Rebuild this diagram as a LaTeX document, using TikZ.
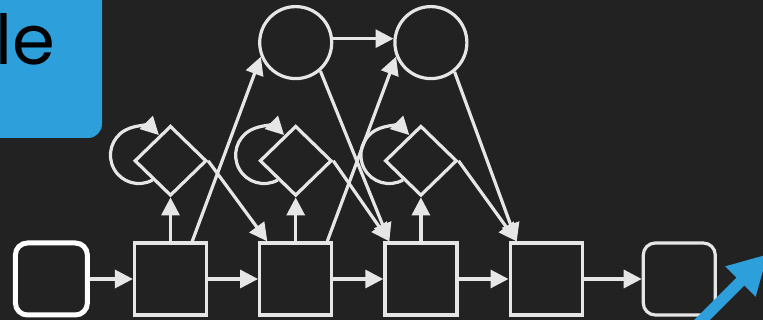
\documentclass[tikz,border=0pt]{standalone}
\usepackage{fontspec}
\newfontfamily\titlefont{Poppins}
\usetikzlibrary{arrows.meta,positioning,shapes.geometric}
\definecolor{bg}{HTML}{222222}
\definecolor{lgray}{HTML}{E6E6E6}
\definecolor{sky}{HTML}{2D9FDA}

\begin{document}
\begin{tikzpicture}[node distance=12.5mm,>={Triangle[length=4.5mm,width=4.5mm]},
sq/.style={draw=lgray,line width=0.8mm,minimum size=18mm,inner sep=0},
io/.style={sq,rounded corners=3mm},
dia/.style={draw=lgray,line width=0.8mm,diamond,minimum width=18mm,minimum height=17.5mm,inner sep=0},
circ/.style={draw=lgray,line width=0.8mm,circle,minimum size=18mm,inner sep=0},
arr/.style={->,draw=lgray,line width=0.8mm}]
\useasboundingbox (0,0) rectangle (190.75mm,80mm);
\fill[bg] (0,0) rectangle (190.75mm,80mm);
\fill[sky,rounded corners=3.5mm] (-5mm,45.5mm) rectangle (25.5mm,90mm);
\node[anchor=base east,inner sep=0,font=\titlefont\fontsize{49}{49}\selectfont] (title) at (13.75mm,63.75mm) {le};
% bottom chain
\node[sq] (s1) at (42.625mm,10.25mm) {};
\node[sq,right=of s1] (s2) {};
\node[sq,right=of s2] (s3) {};
\node[sq,right=of s3] (s4) {};
\node[io,draw=white,line width=1.25mm,left=10.75mm of s1] (src) {};
\node[io,right=14.5mm of s4] (sink) {};
% diamonds and circles
\node[dia,above=11mm of s1] (d1) {};
\node[dia,above=11mm of s2] (d2) {};
\node[dia,above=11mm of s3] (d3) {};
\node[circ,above=11mm of d2] (c1) {};
\node[circ,right=15mm of c1] (c2) {};
\draw[arr] (src)--(s1);\draw[arr] (s1)--(s2);\draw[arr] (s2)--(s3);\draw[arr] (s3)--(s4);\draw[arr] (s4)--(sink);
\draw[arr] (s1)--(d1);\draw[arr] (s2)--(d2);\draw[arr] (s3)--(d3);
\draw[arr] (d1.east)--(s2.127);\draw[arr] (d2.east)--(s3.130);\draw[arr] (d3.east)--(s4.128);
\draw[arr] (s1.60)--(c1.202);\draw[arr] (s2.50)--(c2.202);
\draw[arr] (c1.-49)--(s3.130);\draw[arr] (c2.-51)--(s4.128);
\draw[arr] (c1.6)--(c2.174);
\draw[arr] (d1.227) arc[start angle=-61,end angle=-315,radius=7.1mm];
\draw[arr] (d2.227) arc[start angle=-61,end angle=-315,radius=7.1mm];
\draw[arr] (d3.227) arc[start angle=-61,end angle=-315,radius=7.1mm];
% outgoing
\coordinate (upfrom) at (174.25mm,-1.25mm);
\coordinate (upto) at (192mm,16.5mm);
\draw[sky,line width=2.75mm,-{Triangle[length=9.75mm,width=10mm]}] (upfrom)--(upto);
\end{tikzpicture}
\end{document}
